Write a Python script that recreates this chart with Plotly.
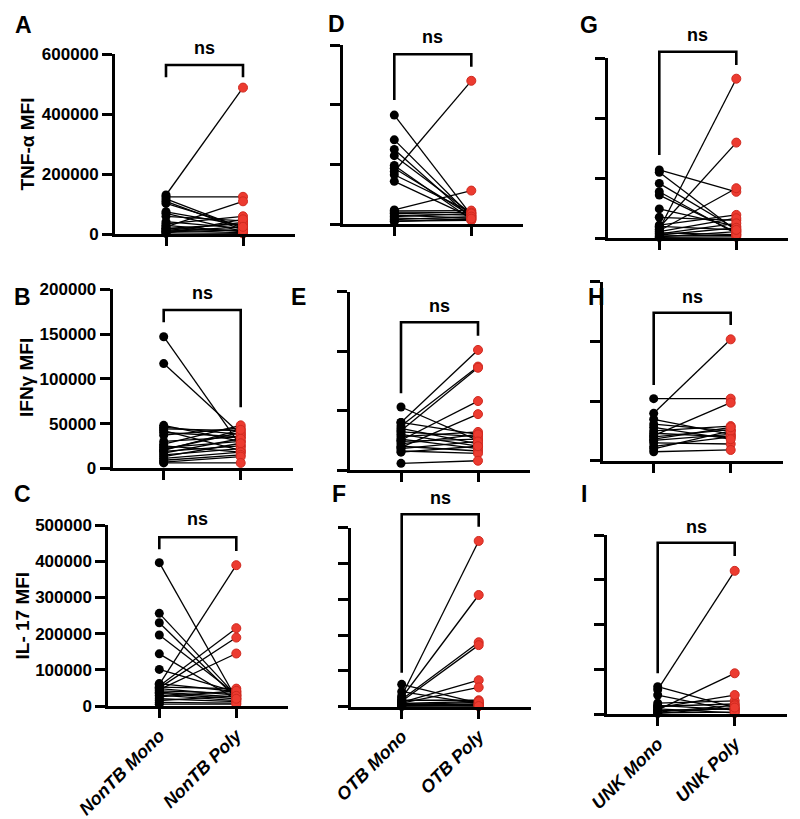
import plotly.graph_objects as go

W, H = 800, 819

# ---------------- data (paired: mono[i] <-> poly[i]) ----------------
groups = ["NonTB", "OTB", "UNK"]
cytokines = ["TNF-α MFI", "IFNγ MFI", "IL- 17 MFI"]
panel_letters = ["A", "B", "C", "D", "E", "F", "G", "H", "I"]

tnf_nontb_mono = [131000, 125000, 118000, 110000, 103000, 75000, 70000, 60000, 42000, 35000,
                  30000, 25000, 20000, 15000, 12000, 8000, 5000, 3000, 20000, 10000]
tnf_nontb_poly = [489000, 125000, 20000, 15000, 25000, 30000, 10000, 45000, 20000, 60000,
                  8000, 110000, 35000, 5000, 40000, 15000, 3000, 50000, 12000, 25000]

ifn_nontb_mono = [147000, 117000, 48000, 46000, 44000, 42000, 40000, 37000, 30000, 27000, 25000,
                  23000, 21000, 19000, 17000, 15000, 13000, 11000, 9000, 7000, 6000, 20000]
ifn_nontb_poly = [25000, 38000, 30000, 38000, 42000, 20000, 35000, 45000, 35000, 48000, 18000,
                  30000, 40000, 25000, 33000, 22000, 28000, 18000, 15000, 13000, 6000, 43000]

il17_nontb_mono = [396000, 256000, 230000, 196000, 144000, 101000, 60000, 55000, 50000, 45000, 62000,
                   52000, 48000, 42000, 38000, 30000, 25000, 20000, 15000, 10000, 5000, 35000]
il17_nontb_poly = [20000, 28000, 22000, 32000, 18000, 38000, 389000, 215000, 189000, 145000, 40000,
                   48000, 30000, 35000, 25000, 15000, 42000, 12000, 28000, 8000, 5000, 20000]

tnf_otb_mono = [365000, 282000, 250000, 229000, 196000, 187000, 176000, 165000, 143000, 47000,
                44000, 40000, 36000, 30000, 25000, 20000, 15000, 10000, 8000]
tnf_otb_poly = [30000, 25000, 20000, 35000, 15000, 28000, 480000, 40000, 22000, 112000,
                45000, 38000, 30000, 20000, 35000, 15000, 25000, 12000, 18000]

ifn_otb_mono = [53000, 40000, 37000, 33000, 25000, 19000, 40000, 35000, 32000, 30000,
                28000, 26000, 24000, 22000, 20000, 18000, 16000, 15000, 5600]
ifn_otb_poly = [25000, 101000, 87000, 86000, 58000, 47000, 30000, 22000, 28000, 20000,
                32000, 18000, 26000, 30000, 16000, 24000, 14000, 20000, 7800]

il17_otb_mono = [62500, 42000, 30000, 25000, 20000, 15000, 12000, 10000, 18000, 8000,
                 6000, 5000, 4000, 3000, 2000, 7000, 9000, 1000]
il17_otb_poly = [10000, 8000, 463000, 312000, 180000, 172000, 74000, 54000, 18000, 5000,
                 12000, 3000, 8000, 2000, 6000, 4000, 15000, 2000]

tnf_unk_mono = [228000, 220000, 183000, 155000, 144000, 98000, 70000, 30000, 36000, 25000,
                44000, 22000, 15000, 11000, 8000, 5000, 3000, 18000, 40000]
tnf_unk_poly = [155000, 25000, 30000, 15000, 20000, 40000, 60000, 532000, 319000, 167000,
                78000, 67000, 50000, 35000, 10000, 22000, 5000, 12000, 28000]

ifn_unk_mono = [52000, 39700, 34700, 30700, 21000, 25000, 23000, 20000, 17000, 15000,
                12000, 10000, 7500, 18000, 28000]
ifn_unk_poly = [52000, 101700, 22000, 25000, 48600, 29000, 20000, 26000, 22000, 14000,
                20000, 25000, 9000, 28000, 18000]

il17_unk_mono = [61600, 55000, 43000, 25000, 18000, 15000, 10000, 8000, 5000, 3000, 20000, 12000, 2000]
il17_unk_poly = [15000, 320000, 8000, 30000, 23000, 43000, 91500, 12000, 20000, 5000, 10000, 3000, 15000]

series = [
    (tnf_nontb_mono, tnf_nontb_poly), (ifn_nontb_mono, ifn_nontb_poly), (il17_nontb_mono, il17_nontb_poly),
    (tnf_otb_mono, tnf_otb_poly), (ifn_otb_mono, ifn_otb_poly), (il17_otb_mono, il17_otb_poly),
    (tnf_unk_mono, tnf_unk_poly), (ifn_unk_mono, ifn_unk_poly), (il17_unk_mono, il17_unk_poly),
]
y_max = [600000, 200000, 500000, 600000, 150000, 500000, 600000, 150000, 400000]
y_dtick = [200000, 50000, 100000, 200000, 50000, 100000, 200000, 50000, 100000]

# ---------------- layout geometry (pixels) ----------------
geom = [
    dict(yx=115.0, y0=234.3, yt=54.3, letter=(23, 24.5), ns=48.0, br=(65.0, 77.3, 77.3)),
    dict(yx=112.7, y0=468.3, yt=289.3, letter=(22, 297), ns=293.3, br=(310.0, 322.3, 407.3)),
    dict(yx=108.3, y0=706.0, yt=525.0, letter=(22.5, 494), ns=519.3, br=(537.3, 549.3, 551.0)),
    dict(yx=343.3, y0=224.0, yt=45.0, letter=(336, 24), ns=36.7, br=(54.3, 100.0, 66.7)),
    dict(yx=350.0, y0=470.0, yt=291.7, letter=(298, 297), ns=306.0, br=(322.3, 393.3, 335.7)),
    dict(yx=350.7, y0=706.7, yt=527.7, letter=(339, 494.5), ns=498.3, br=(514.3, 672.7, 526.7)),
    dict(yx=608.3, y0=238.3, yt=58.3, letter=(588.7, 24.5), ns=35.0, br=(51.7, 155.0, 65.0)),
    dict(yx=602.7, y0=460.7, yt=281.7, letter=(596, 297), ns=296.7, br=(312.7, 385.0, 325.0)),
    dict(yx=606.7, y0=714.3, yt=535.0, letter=(584, 494), ns=526.7, br=(542.7, 673.3, 556.0)),
]
ytitles = [(27, 144.5), (26, 378), (22, 615.5)]
AX_LEN = 180.0
MONO_OFF = 51.0
POLY_OFF = 128.0
UNIT = POLY_OFF - MONO_OFF

FONT = "Liberation Sans"
RED = "#EC3B30"
RED_EDGE = "#D02A20"


def px(x):
    return x / W


def py(y):
    return 1 - y / H


fig = go.Figure()
layout = dict(
    template="none",
    width=W, height=H, margin=dict(l=0, r=0, t=0, b=0, pad=0, autoexpand=False),
    paper_bgcolor="white", plot_bgcolor="white", showlegend=False,
    font=dict(family=FONT, color="black"),
)
shapes, annotations = [], []

for i, (mono, poly) in enumerate(series):
    n = i + 1
    sfx = "" if n == 1 else str(n)
    g = geom[i]
    col, row = i // 3, i % 3
    xa, ya = "x" + sfx, "y" + sfx

    lx, ly = [], []
    for m, p in zip(mono, poly):
        lx += [0, 1, None]
        ly += [m, p, None]
    fig.add_trace(go.Scatter(x=lx, y=ly, mode="lines", line=dict(color="black", width=1.3),
                             xaxis=xa, yaxis=ya, hoverinfo="skip"))
    fig.add_trace(go.Scatter(x=[0] * len(mono), y=mono, mode="markers", cliponaxis=False,
                             marker=dict(color="black", size=9, line=dict(width=0)),
                             xaxis=xa, yaxis=ya))
    fig.add_trace(go.Scatter(x=[1] * len(poly), y=poly, mode="markers", cliponaxis=False,
                             marker=dict(color=RED, size=9, line=dict(color=RED_EDGE, width=1)),
                             xaxis=xa, yaxis=ya))

    show_x_labels = row == 2
    layout["xaxis" + sfx] = dict(
        domain=[px(g["yx"]), px(g["yx"] + AX_LEN)],
        range=[-MONO_OFF / UNIT, (AX_LEN - MONO_OFF) / UNIT],
        anchor=ya, showgrid=False, zeroline=False, automargin=False,
        showline=True, linewidth=3, linecolor="black",
        ticks="outside", ticklen=9, tickwidth=3, tickcolor="black",
        tickmode="array", tickvals=[0, 1],
        ticktext=[groups[col] + " Mono", groups[col] + " Poly"],
        showticklabels=show_x_labels, tickangle=-45,
        tickfont=dict(family=FONT, size=18, weight="bold", style="italic", color="black"),
        fixedrange=True,
    )
    layout["yaxis" + sfx] = dict(
        domain=[py(g["y0"]), py(g["yt"])],
        range=[0, y_max[i]], anchor=xa, automargin=False,
        showgrid=False, zeroline=False,
        showline=True, linewidth=3, linecolor="black",
        ticks="outside", ticklen=10, tickwidth=3, tickcolor="black",
        tickmode="linear", tick0=0, dtick=y_dtick[i], tickformat="d",
        showticklabels=(col == 0),
        tickfont=dict(family=FONT, size=17, weight="bold", color="black"),
        fixedrange=True,
    )

    top, lb, rb = g["br"]
    shapes.append(dict(
        type="path", xref=xa, yref="paper",
        path=f"M 0,{py(lb)} L 0,{py(top)} L 1,{py(top)} L 1,{py(rb)}",
        line=dict(color="black", width=2.6),
    ))
    annotations.append(dict(
        text="ns", xref=xa, x=0.5, yref="paper", y=py(g["ns"]),
        xanchor="center", yanchor="middle", showarrow=False,
        font=dict(family=FONT, size=18, weight="bold", color="black"),
    ))
    lxp, lyp = g["letter"]
    annotations.append(dict(
        text=panel_letters[i], xref="paper", yref="paper", x=px(lxp), y=py(lyp),
        xanchor="center", yanchor="middle", showarrow=False,
        font=dict(family=FONT, size=23, weight="bold", color="black"),
    ))

for k, name in enumerate(cytokines):
    tx, ty = ytitles[k]
    annotations.append(dict(
        text=name, xref="paper", yref="paper", x=px(tx), y=py(ty),
        xanchor="center", yanchor="middle", showarrow=False, textangle=-90,
        font=dict(family=FONT, size=19, weight="bold", color="black"),
    ))

layout["shapes"] = shapes
layout["annotations"] = annotations
fig.update_layout(**layout)
fig.write_html("out.html", config={"displayModeBar": False, "staticPlot": True},
               post_script="document.body.style.margin='0';document.body.style.overflow='hidden';")
